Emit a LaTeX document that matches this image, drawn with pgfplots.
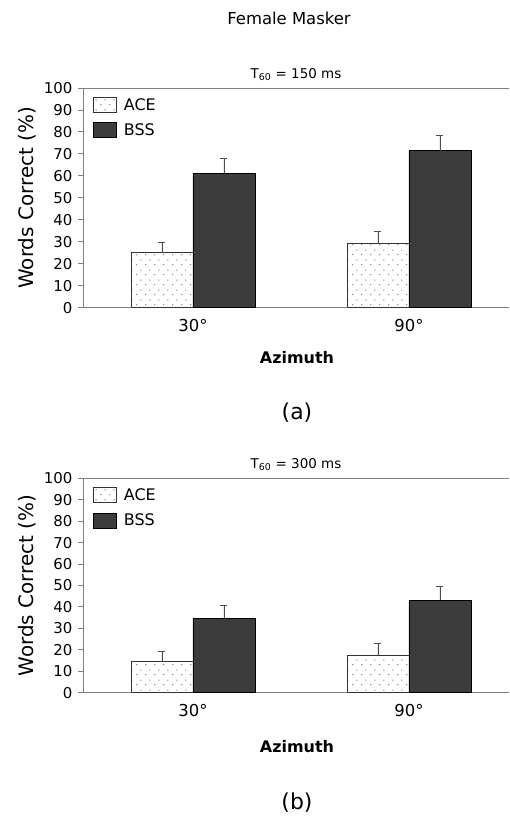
\documentclass[border=0pt]{standalone}
\usepackage{fontspec}
\setmainfont{DejaVu Sans}
\usepackage{pgfplots}
\pgfplotsset{compat=1.18}
\usetikzlibrary{patterns.meta}
\definecolor{bssfill}{HTML}{3C3C3C}
\definecolor{axgray}{HTML}{808080}
\tikzdeclarepattern{
  name=sparsedots,
  type=uncolored,
  bounding box={(0,0) and (9bp,10bp)},
  tile size={(9bp,10bp)},
  code={\fill (2bp,2.5bp) circle (0.7bp); \fill (6.5bp,7.5bp) circle (0.7bp);}
}
\pgfplotsset{
  mypanel/.style={
    scale only axis, width=426bp,
    xmin=-0.509, xmax=1.463, ymin=0, ymax=100,
    axis x line=bottom, axis y line=left,
    axis line style={axgray, line width=0.9pt, -},
    ytick={0,10,...,100}, tick align=outside, major tick length=5bp,
    y tick style={axgray, line width=0.9pt},
    xtick={0,1}, xticklabels={30°,90°}, x tick style={draw=none},
    extra y ticks={100}, extra y tick labels={},
    extra y tick style={grid=major, major grid style={axgray, line width=0.9pt}},
    /pgf/number format/assume math mode=true,
    yticklabel style={font=\fontsize{15}{18}\selectfont, xshift=-2bp},
    xticklabel style={font=\fontsize{16.5}{19}\selectfont, yshift=-3bp},
    ybar=0pt, bar width=62bp,
    clip=false,
    legend style={at={(axis description cs:0,1)}, anchor=north west,
      xshift=10bp, yshift=-8bp, draw=none, fill=none,
      font=\fontsize{16}{19}\selectfont, row sep=8bp, inner sep=0pt},
    legend cell align=left,
    area legend,
    legend image code/.code={\draw[#1] (0bp,-7.5bp) rectangle (23bp,7.5bp);},
    error bars/y dir=plus, error bars/y explicit,
    error bars/error bar style={black!70, line width=0.9pt},
    error bars/error mark options={rotate=90, black!70, mark size=3.5bp, line width=0.9pt},
  },
  acestyle/.style={draw=black!80, line width=0.7pt, fill=white, postaction={pattern=sparsedots, pattern color=black!60}},
  bssstyle/.style={draw=black, line width=0.7pt, fill=bssfill},
}
\begin{document}
\begin{tikzpicture}
% Panel (a)
\begin{axis}[mypanel, height=219.7bp, at={(0,0)}]
\addplot[acestyle] coordinates {(0,25.0) +- (0,4.9) (1,29.1) +- (0,5.7)};
\addplot[bssstyle] coordinates {(0,61.2) +- (0,6.9) (1,71.5) +- (0,7.1)};
\legend{\hspace{5bp}ACE,\hspace{5bp}BSS}
\node[font=\fontsize{13.5}{16}\selectfont] at (axis description cs:0.5,1) [yshift=13bp] {T\textsubscript{60} = 150 ms};
\node[font=\fontsize{16.5}{19}\selectfont] at (axis description cs:0.5,1) [yshift=70bp, xshift=-7bp] {Female Masker};
\node[font=\bfseries\fontsize{16}{19}\selectfont] at (axis description cs:0.5,0) [yshift=-50bp, xshift=1bp] {Azimuth};
\node[font=\fontsize{22}{26}\selectfont] at (axis description cs:0.5,0) [yshift=-105bp, xshift=1bp] {(a)};
\node[font=\fontsize{20}{24}\selectfont, rotate=90, anchor=center] at (axis description cs:0,0.5) [yshift=55.5bp] {Words Correct (\%)};
\end{axis}
% Panel (b)
\begin{axis}[mypanel, height=214.4bp, at={(0,-385bp)}]
\addplot[acestyle] coordinates {(0,14.5) +- (0,4.6) (1,17.6) +- (0,5.4)};
\addplot[bssstyle] coordinates {(0,34.8) +- (0,6.1) (1,43.2) +- (0,6.2)};
\legend{\hspace{5bp}ACE,\hspace{5bp}BSS}
\node[font=\fontsize{13.5}{16}\selectfont] at (axis description cs:0.5,1) [yshift=14bp] {T\textsubscript{60} = 300 ms};
\node[font=\bfseries\fontsize{16}{19}\selectfont] at (axis description cs:0.5,0) [yshift=-54bp, xshift=1bp] {Azimuth};
\node[font=\fontsize{22}{26}\selectfont] at (axis description cs:0.5,0) [yshift=-110bp, xshift=1bp] {(b)};
\node[font=\fontsize{20}{24}\selectfont, rotate=90, anchor=center] at (axis description cs:0,0.5) [yshift=55.5bp] {Words Correct (\%)};
\end{axis}
\path (-83bp,307.7bp) rectangle (426bp,-509.3bp);
\end{tikzpicture}
\end{document}
